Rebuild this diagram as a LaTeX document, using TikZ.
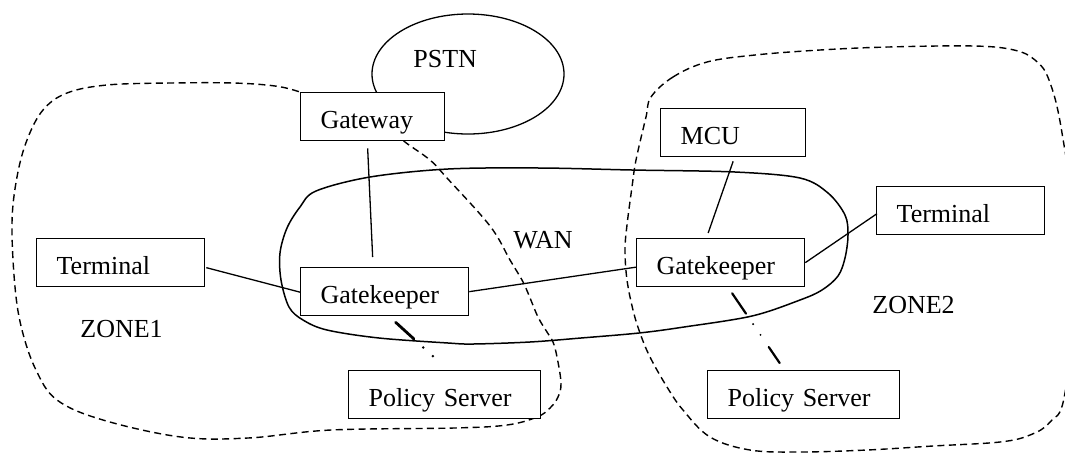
\documentclass[tikz,border=0pt]{standalone}
\usepackage{fontspec}
\setmainfont{Liberation Serif}
\usetikzlibrary{calc}
\begin{document}
\begin{tikzpicture}[x=0.5pt,y=-0.5pt,
  box/.style={draw, line width=0.65pt, fill=white, anchor=north west, inner xsep=10pt, inner ysep=0pt,
    align=left, text height=12pt, text depth=0.5pt, minimum height=24pt, font=\fontsize{13}{15}\selectfont},
  lbl/.style={anchor=base west, inner sep=0pt, font=\fontsize{13}{15}\selectfont},
  link/.style={line width=0.65pt},
  zone/.style={line width=0.7pt, dash pattern=on 3.5pt off 2.2pt},
  wan/.style={line width=0.75pt},
  policy/.style={line cap=round, dash pattern=on 12.3pt off 6.35pt on 0pt off 6.5pt on 0pt off 7.35pt}]
\useasboundingbox (0,0) rectangle (1065,452);
\clip (0,0) rectangle (1065,452);

% zone boundaries
\draw[zone] plot[smooth, tension=0.6] coordinates {(320,100) (300,92) (275,86) (233,83) (170,83) (107,85) (67,93) (43,110) (27,140) (17,177) (12,223) (15,287) (22,330) (36,370) (57,400) (103,420) (181,437) (248,438) (331,430) (454,428) (507,425) (537,417) (550,408) (558,397) (561,383) (557,357) (553,342) (547,332) (538,317) (528,293) (522,280) (510,260) (490,226) (447,178) (430,160) (405,142) (395,132)};
\draw[zone] plot[smooth cycle, tension=0.6] coordinates {(651,97) (673,77) (707,62) (755,55) (820,50) (888,47) (974,46) (1014,50) (1035,60) (1049,80) (1062,133) (1078,260) (1065,393) (1050,422) (1030,435) (1000,442) (933,446) (867,450) (800,452) (750,450) (710,437) (683,410) (667,387) (650,357) (640,333) (633,310) (627,280) (625,250) (627,225) (632,187) (636,160) (646,117)};

% WAN cloud
\draw[wan] plot[smooth cycle, tension=0.55] coordinates {(316,191) (370,177) (448,169) (540,168) (632,170) (735,172) (800,178) (828,193) (845,215) (848,235) (845,258) (838,276) (822,290) (800,300) (752,316) (684,327) (639,333) (581,338) (530,342) (473,344) (448,343) (379,338) (327,330) (303,320) (289,307) (281,280) (280,253) (287,228) (300,207)};

% PSTN
\draw[link] (468,74) ellipse [x radius=96, y radius=60];
\node[lbl] (pstnlbl) at (413,67) {PSTN};

% boxes
\node[box, text width=52pt] (gw) at (300,92) {Gateway};
\node[box, text width=64pt] (tL) at (36,238) {Terminal};
\node[box, text width=64pt] (gkL) at (300,267) {Gatekeeper};
\node[box, text width=76pt] (plL) at (348,370) {Policy Server};
\node[box, text width=52.5pt] (mcu) at (660,108) {MCU};
\node[box, text width=64pt] (gkR) at (636,238) {Gatekeeper};
\node[box, text width=76pt] (plR) at (707,370) {Policy Server};
\node[box, text width=64pt] (tR) at (876,186) {Terminal};

% labels
\node[lbl] (wanlbl) at (513,248) {WAN};
\node[lbl] (z1) at (80,337) {ZONE1};
\node[lbl] (z2) at (872,313) {ZONE2};

% connectors
\draw[link] ($(gw.south)+(-5,7)$) -- ($(gkL.north)+(-12,-10)$);
\draw[link] ($(tL.east)+(1,5)$) -- ($(gkL.west)+(0,0.5)$);
\draw[link] (gkL.east) -- ($(gkR.west)+(0,4.5)$);
\draw[link] ($(mcu.south)+(0,4)$) -- ($(gkR.north)+(-12.5,-5)$);
\draw[link] (gkR.east) -- ($(tR.west)+(1,3)$);
\draw[policy, line width=1.4pt] ($(gkL.south)+(11,6)$) -- ($(plL.north)+(-1,-4)$);
\draw[policy, line width=1.1pt] ($(gkR.south)+(11.5,6)$) -- ($(plR.north)+(-24,-7)$);
\end{tikzpicture}
\end{document}
